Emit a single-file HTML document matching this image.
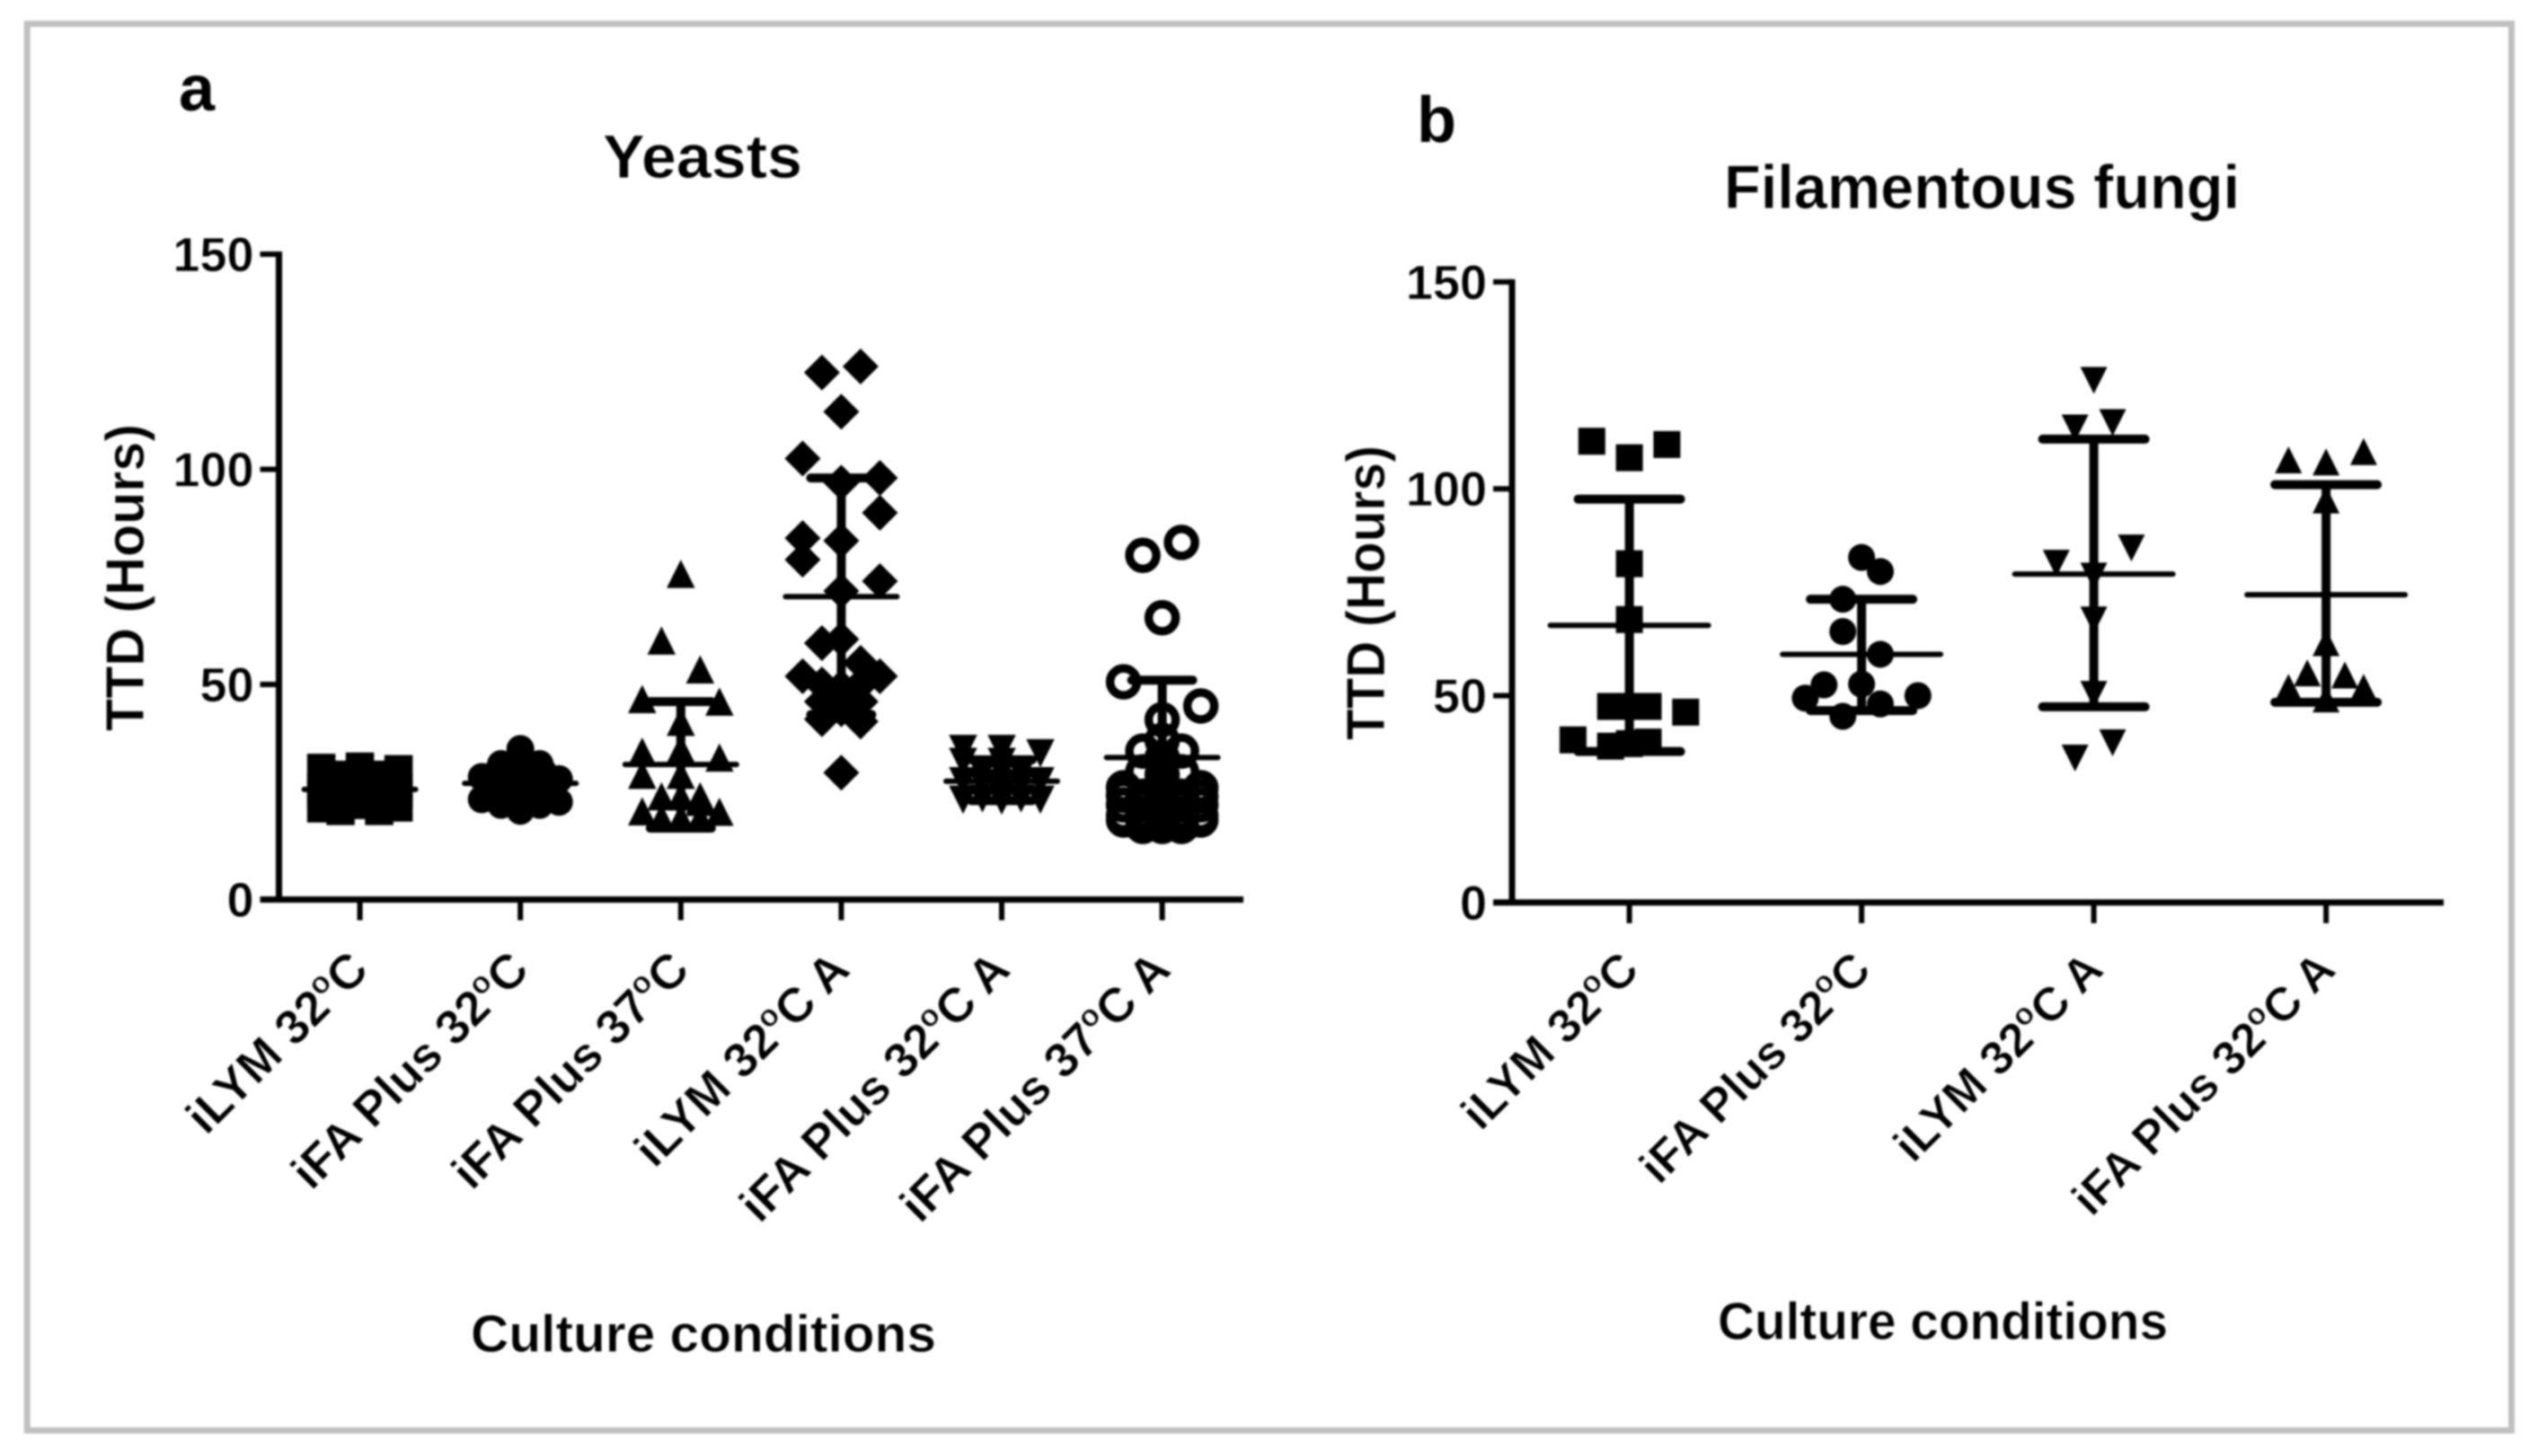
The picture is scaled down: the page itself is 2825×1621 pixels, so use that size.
<!DOCTYPE html>
<html lang="en">
<head>
<meta charset="utf-8">
<title>TTD by culture conditions</title>
<style>
html,body{margin:0;padding:0;background:#fff;width:2825px;height:1621px;overflow:hidden}
svg{display:block;filter:blur(1.15px)}
text{font-family:"Liberation Sans",Arial,sans-serif;font-weight:bold;fill:#000}
.light{stroke:#fff;stroke-width:0.7px}
</style>
</head>
<body>
<svg id="figure" xmlns="http://www.w3.org/2000/svg" width="2825" height="1621" viewBox="0 0 2825 1621">
  <rect x="30.2" y="26.5" width="2765.3" height="1566" fill="#fff" stroke="#c0c0c0" stroke-width="7"/>
  <text x="199" y="123" font-size="72">a</text>
  <text x="1577" y="158" font-size="72">b</text>
  <text class="light" x="671" y="198" font-size="69" textLength="222" lengthAdjust="spacingAndGlyphs">Yeasts</text>
  <text class="light" x="1919" y="232" font-size="69" textLength="574" lengthAdjust="spacingAndGlyphs">Filamentous fungi</text>
  <text class="light" transform="translate(160 814) rotate(-90)" font-size="60" textLength="342" lengthAdjust="spacingAndGlyphs">TTD (Hours)</text>
  <text class="light" transform="translate(1541 824) rotate(-90)" font-size="60" textLength="328" lengthAdjust="spacingAndGlyphs">TTD (Hours)</text>
  <text class="light" x="524" y="1505" font-size="58" textLength="518" lengthAdjust="spacingAndGlyphs">Culture conditions</text>
  <text class="light" x="1912" y="1491" font-size="58" textLength="501" lengthAdjust="spacingAndGlyphs">Culture conditions</text>
</svg>
<script>
// ---------- chart data ----------
const yTickLabels = [0, 50, 100, 150];

const yeastCategories = ['iLYM 32^oC', 'iFA Plus 32^oC', 'iFA Plus 37^oC', 'iLYM 32^oC A', 'iFA Plus 32^oC A', 'iFA Plus 37^oC A'];
const yeastShapes = ['square', 'circle', 'triangle', 'diamond', 'inverted', 'open'];
const yeastMeans = [25.6, 27, 31.4, 70.4, 27.5, 33];
const yeastUpper = [30, 31, 46, 98, 32.5, 51];
const yeastLower = [21, 23, 16.6, 43, 23, 15.2];

const yeast1Values = [30.6, 30.9, 30.3, 29, 29, 26, 26, 26, 25, 25, 24.5, 24.5, 22, 21.2, 20.6, 20.6, 21.4];
const yeast1Slots = [-2, 0, 2, -1, 1, -2, 0, 2, -1, 1, -2, 2, 0, -2, -1, 1, 2];
const yeast2Values = [35, 33, 31.5, 31.5, 30, 28.5, 28, 27, 27, 26, 24, 24, 23.3, 22.7, 22, 22, 20.6];
const yeast2Slots = [0, 0, -1, 1, 0, -2, 2, -1, 1, 0, -1, 1, -2, 2, -1, 1, 0];
const yeast3Values = [75.7, 60.2, 53.5, 46.6, 46, 41.3, 35, 34.4, 33, 29, 29, 24, 24, 24, 23.3, 22.7, 20.5, 20.4, 19, 19, 19];
const yeast3Slots = [0, -1, 1, -2, 2, 0, 0, -2, 2, -2, 0, 0, -1, 1, 1, 1, -2, 2, -1, 0, 1];
const yeast4Values = [122.5, 123.9, 113.4, 102.5, 98, 96.9, 89.9, 84, 83.4, 79, 74, 71.7, 60.5, 59.6, 55, 51.9, 51.9, 50, 50, 49.4, 47, 46, 46, 44.2, 41.9, 41.4, 29.5];
const yeast4Slots = [-1, 1, 0, -2, 2, 0, 2, -2, 0, -2, 2, 0, 0, -1, 1, -2, 2, -1, 1, 0, 0, -1, 1, 0, -1, 1, 0];
const yeast5Values = [35, 35, 34, 32, 32, 29.6, 29.6, 29.6, 27.5, 27.5, 27, 27, 27, 24.5, 23.5, 23.5, 23.2, 23.2, 23];
const yeast5Slots = [-2, 0, 2, -2, 0, -1, 0, 1, -2, 2, -1, 0, 1, 0, -1, 1, -2, 2, 0];
const yeast6Values = [83, 80, 65.5, 50.6, 45, 41.8, 37, 34.5, 34.5, 33, 29.7, 29.7, 29, 26, 26, 25, 24.2, 24, 24, 24, 22, 22, 22, 22, 21, 20, 20, 19.5, 19.5, 19.5, 19.5, 19, 18.5, 18.5, 17, 17, 17];
const yeast6Slots = [1, -1, 0, -2, 2, 0, 0, -1, 1, 0, -1, 1, 0, -2, 2, 0, -2, 2, -1, 1, -2, 2, -1, 1, 0, -1, 1, -2, 2, -1, 1, 0, -2, 2, 0, -1, 1];

const fungiCategories = ['iLYM 32^oC', 'iFA Plus 32^oC', 'iLYM 32^oC A', 'iFA Plus 32^oC A'];
const fungiShapes = ['square', 'circle', 'inverted', 'triangle'];
const fungiMeans = [67, 60, 79.4, 74.4];
const fungiUpper = [97.5, 73.3, 112, 101];
const fungiLower = [36.5, 46.4, 47.3, 48.4];

const fungi1Values = [111.5, 107.5, 110.7, 81.9, 68.4, 47.4, 47.4, 47.4, 46, 39.3, 37.8, 38.4, 38.8];
const fungi1Slots = [-2, 0, 2, 0, 0, -1, 0, 1, 3, -3, -1, 0, 1];
const fungi2Values = [83.4, 80, 73.3, 65.5, 60, 52.8, 52.6, 49.4, 50, 48, 45];
const fungi2Slots = [0, 1, -1, -1, 1, 0, -2, -3, 3, 1, -1];
const fungi3Values = [126.2, 114.7, 116, 82, 85.7, 78.9, 68.3, 50.3, 38.6, 34.9];
const fungi3Slots = [0, -1, 1, -2, 2, 0, 0, 0, 1, -1];
const fungi4Values = [107, 106.5, 109, 97.3, 62.8, 55.5, 55, 52, 52, 49.2];
const fungi4Slots = [-2, 0, 2, 0, 0, -1, 1, -2, 2, 0];

const yeastSeriesValues = [yeast1Values, yeast2Values, yeast3Values, yeast4Values, yeast5Values, yeast6Values];
const yeastSeriesSlots = [yeast1Slots, yeast2Slots, yeast3Slots, yeast4Slots, yeast5Slots, yeast6Slots];
const fungiSeriesValues = [fungi1Values, fungi2Values, fungi3Values, fungi4Values];
const fungiSeriesSlots = [fungi1Slots, fungi2Slots, fungi3Slots, fungi4Slots];

// ---------- rendering ----------
const SVG_NS = 'http://www.w3.org/2000/svg';
const svg = document.getElementById('figure');

function make(tag, parent, attrs) {
  const node = document.createElementNS(SVG_NS, tag);
  Object.keys(attrs).forEach(function (k) { node.setAttribute(k, attrs[k]); });
  parent.appendChild(node);
  return node;
}

function markerPath(shape, x, y, size) {
  const h = size / 2;
  if (shape === 'square') return 'M' + (x - h) + ' ' + (y - h) + 'h' + size + 'v' + size + 'h' + (-size) + 'z';
  if (shape === 'triangle') return 'M' + x + ' ' + (y - h) + 'L' + (x + h) + ' ' + (y + h) + 'L' + (x - h) + ' ' + (y + h) + 'z';
  if (shape === 'inverted') return 'M' + x + ' ' + (y + h) + 'L' + (x + h) + ' ' + (y - h) + 'L' + (x - h) + ' ' + (y - h) + 'z';
  return 'M' + x + ' ' + (y - h) + 'L' + (x + h) + ' ' + y + 'L' + x + ' ' + (y + h) + 'L' + (x - h) + ' ' + y + 'z';
}

function drawPanel(cfg) {
  const root = make('g', svg, {});
  
  

  const yScale = function (v) { return cfg.y0 - v * cfg.yUnit; };
  const xScale = function (i) { return cfg.x0 + i * cfg.xStep; };
  const bottom = yScale(0);
  const lineStyle = { stroke: '#000', fill: 'none' };

  const yAxis = make('line', root, Object.assign({ x1: cfg.axisX, x2: cfg.axisX, y1: yScale(150) - 3, y2: bottom + 3, 'stroke-width': 7 }, lineStyle));
  
  
  const xAxis = make('line', root, Object.assign({ x1: cfg.axisX - 21, x2: cfg.axisEnd, y1: bottom, y2: bottom, 'stroke-width': 7 }, lineStyle));
  
  

  yTickLabels.forEach(function (t) {
    const tick = make('line', root, Object.assign({ x1: cfg.axisX - 21, x2: cfg.axisX, y1: yScale(t), y2: yScale(t), 'stroke-width': 6 }, lineStyle));
    
    
    const label = make('text', root, { x: cfg.axisX - 28, y: yScale(t) + 19, 'font-size': 54, 'text-anchor': 'end', 'class': 'light' });
    label.textContent = String(t);
    
    
  });

  cfg.categories.forEach(function (cat, i) {
    const cx = xScale(i);
    const tick = make('line', root, Object.assign({ x1: cx, x2: cx, y1: bottom, y2: bottom + 23, 'stroke-width': 6 }, lineStyle));
    
    

    const parts = cat.split('^o');
    const lx = cx + cfg.labelDx, ly = cfg.labelY;
    const label = make('text', root, { x: lx, y: ly, 'font-size': cfg.labelSize, 'text-anchor': 'end', 'class': 'light', transform: 'rotate(-45 ' + lx + ' ' + ly + ')' });
    
    
    const t1 = make('tspan', label, {});
    t1.textContent = parts[0];
    const t2 = make('tspan', label, { 'font-size': 34, dy: -20 });
    t2.textContent = 'o';
    const t3 = make('tspan', label, { dy: 20 });
    t3.textContent = parts[1];

    const group = make('g', root, {});
    
    

    const stem = make('line', group, Object.assign({ x1: cx, x2: cx, y1: yScale(cfg.upper[i]), y2: yScale(cfg.lower[i]), 'stroke-width': 10 }, lineStyle));
    
    
    const capTop = make('line', group, Object.assign({ x1: cx - cfg.capHalf, x2: cx + cfg.capHalf, y1: yScale(cfg.upper[i]), y2: yScale(cfg.upper[i]), 'stroke-width': 10, 'stroke-linecap': 'round' }, lineStyle));
    
    
    const capBottom = make('line', group, Object.assign({ x1: cx - cfg.capHalf, x2: cx + cfg.capHalf, y1: yScale(cfg.lower[i]), y2: yScale(cfg.lower[i]), 'stroke-width': 10, 'stroke-linecap': 'round' }, lineStyle));
    
    
    const meanLine = make('line', group, Object.assign({ x1: cx - cfg.meanHalf, x2: cx + cfg.meanHalf, y1: yScale(cfg.means[i]), y2: yScale(cfg.means[i]), 'stroke-width': 6, 'stroke-linecap': 'round' }, lineStyle));
    
    

    const shape = cfg.shapes[i];
    cfg.values[i].forEach(function (v, j) {
      const px = cx + cfg.slots[i][j] * cfg.slotStep;
      const py = yScale(v);
      let mark;
      if (shape === 'open') {
        mark = make('circle', group, { cx: px, cy: py, r: 15, fill: 'none', stroke: '#000', 'stroke-width': 9.5 });
      } else if (shape === 'circle') {
        mark = make('circle', group, { cx: px, cy: py, r: cfg.circleR, fill: '#000' });
      } else {
        const size = shape === 'diamond' ? 40 : cfg.markSize;
        mark = make('path', group, { d: markerPath(shape, px, py, size), fill: '#000' });
      }
      
      
    });
  });
}

drawPanel({
  key: 'yeasts', categories: yeastCategories, shapes: yeastShapes,
  means: yeastMeans, upper: yeastUpper, lower: yeastLower,
  values: yeastSeriesValues, slots: yeastSeriesSlots,
  x0: 400.6, xStep: 178.6, y0: 1001.5, yUnit: 4.79,
  axisX: 310.5, axisEnd: 1384, labelY: 1082, labelDx: 12, labelSize: 54,
  capHalf: 34, meanHalf: 62, slotStep: 21.5, markSize: 31.5, circleR: 15.5
});

drawPanel({
  key: 'fungi', categories: fungiCategories, shapes: fungiShapes,
  means: fungiMeans, upper: fungiUpper, lower: fungiLower,
  values: fungiSeriesValues, slots: fungiSeriesSlots,
  x0: 1813.6, xStep: 258.5, y0: 1004.8, yUnit: 4.606,
  axisX: 1683, axisEnd: 2720, labelY: 1082, labelDx: 13, labelSize: 52.5,
  capHalf: 57, meanHalf: 88, slotStep: 20.9, markSize: 30, circleR: 15
});
</script>
</body>
</html>
